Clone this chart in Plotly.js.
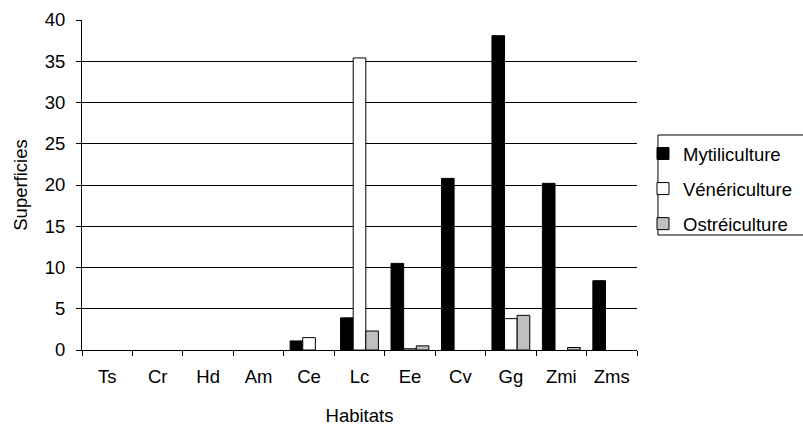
<!DOCTYPE html>
<html>
<head>
<meta charset="utf-8">
<script src="https://cdn.plot.ly/plotly-3.0.1.min.js"></script>
<style>html,body{margin:0;padding:0;background:#fff;}#chart{width:803px;height:426px;}</style>
</head>
<body>
<div id="chart"></div>
<script>
const habitats = ["Ts","Cr","Hd","Am","Ce","Lc","Ee","Cv","Gg","Zmi","Zms"];
const mytiliculture = [null,null,null,null,1.1,3.9,10.5,20.8,38.1,20.2,8.4];
const venericulture = [null,null,null,null,1.5,35.4,0.15,null,3.8,null,null];
const ostreiculture = [null,null,null,null,null,2.3,0.5,null,4.2,0.3,null];
const yTicks = [0,5,10,15,20,25,30,35,40];

const font = {family: "Liberation Sans, Arial, sans-serif", size: 18.5, color: "#000"};
const mk = (name, y, color) => ({
  type: "bar", name: name, x: habitats, y: y, legendgroup: name,
  marker: {color: color, line: {color: "#000", width: 1}}
});
const data = [
  mk("Mytiliculture", mytiliculture, "#000000"),
  mk("Vénériculture", venericulture, "#FFFFFF"),
  mk("Ostréiculture", ostreiculture, "#C0C0C0")
];
const layout = {
  width: 803, height: 426,
  margin: {l: 82, r: 166, t: 20, b: 76, autoexpand: false},
  paper_bgcolor: "#fff", plot_bgcolor: "#fff",
  font: font,
  barmode: "group", bargap: 0.25, bargroupgap: 0,
  showlegend: true,
  legend: {x: 1.0108, xanchor: "left", y: 0.6515, yanchor: "top",
    borderwidth: 0, bgcolor: "rgba(0,0,0,0)",
    font: {family: font.family, size: 18.5, color: "#000"},
    tracegroupgap: 8, itemwidth: 30},
  shapes: [{type: "rect", xref: "paper", yref: "paper",
    x0: 1.0378, x1: 1.3, y0: 0.3485, y1: 0.6515,
    line: {color: "#000", width: 1}, fillcolor: "rgba(0,0,0,0)", layer: "below"}],
  xaxis: {
    type: "category", tickson: "boundaries", ticks: "outside", ticklen: 5,
    tickcolor: "#000", showline: true, linecolor: "#000", linewidth: 1,
    showgrid: false, zeroline: false, tickfont: font, ticklabelstandoff: 10,
    title: {text: "Habitats", font: font, standoff: 22}
  },
  yaxis: {
    range: [0, 40], tickvals: yTicks, ticks: "outside", ticklen: 5,
    tickcolor: "#000", showline: true, linecolor: "#000", linewidth: 1,
    showgrid: true, gridcolor: "#000", gridwidth: 1, zeroline: false,
    tickfont: font, ticklabelstandoff: 7,
    title: {text: "Superficies", font: font, standoff: 12}
  }
};
Plotly.newPlot("chart", data, layout, {displayModeBar: false, staticPlot: true});
</script>
</body>
</html>
